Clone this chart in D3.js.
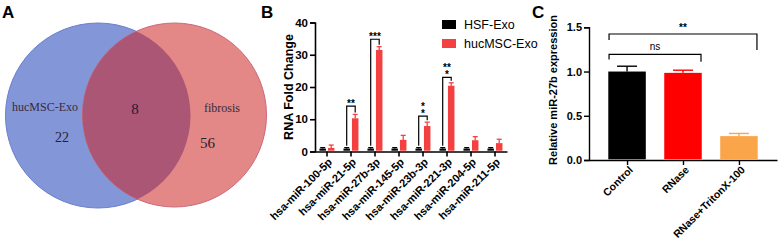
<!DOCTYPE html>
<html>
<head>
<meta charset="utf-8">
<script src="https://cdn.jsdelivr.net/npm/d3@7"></script>
<style>
body { margin: 0; background: #fff; }
svg { display: block; font-family: "Liberation Sans", Arial, sans-serif; }
</style>
</head>
<body>
<svg id="fig" width="778" height="248"></svg>
<script>
// panel A: venn counts
var vennSets = ['hucMSC-Exo', 'fibrosis'];
var vennCounts = [22, 8, 56];

// panel B: miRNA fold change
var mirs = ['hsa-miR-100-5p', 'hsa-miR-21-5p', 'hsa-miR-27b-3p', 'hsa-miR-145-5p',
            'hsa-miR-23b-3p', 'hsa-miR-221-3p', 'hsa-miR-204-5p', 'hsa-miR-211-5p'];
var hsfVals = [0.9, 0.9, 0.9, 0.9, 0.9, 0.9, 0.9, 0.9];
var hsfErr = [0.3, 0.3, 0.3, 0.3, 0.3, 0.3, 0.3, 0.3];
var mscVals = [1.1, 10.3, 31.5, 3.6, 7.9, 20.4, 3.5, 2.6];
var mscErr = [0.9, 1.2, 1.0, 1.4, 1.2, 0.9, 1.1, 1.2];
var sigIdx = [1, 2, 4, 5];
var sigTop = [14.1, 34.8, 11.0, 23.0];
var sigLabels = [['**'], ['***'], ['*', '*'], ['**', '*']];
var yTicksB = [0, 10, 20, 30, 40];

// panel C: relative miR-27b
var groupsC = ['Control', 'RNase', 'RNase+TritonX-100'];
var valsC = [1.0, 0.985, 0.27];
var errC = [0.06, 0.03, 0.03];
var colorsC = ['#000000', '#ff0000', '#fba54a'];
var yTicksC = [0, 0.5, 1.0, 1.5];

var svg = d3.select('#fig');

// ---------- A ----------
var gA = svg.append('g');
gA.append('text').attr('x', 2).attr('y', 18).attr('font-size', 17).attr('font-weight', 'bold').text('A');

var blue = {cx: 98, cy: 115.5, r: 92.5};
var red = {cx: 174.5, cy: 115, r: 92};
var defs = svg.append('defs');
defs.append('clipPath').attr('id', 'clipBlue').append('circle')
    .attr('cx', blue.cx).attr('cy', blue.cy).attr('r', blue.r);

gA.append('circle').attr('cx', blue.cx).attr('cy', blue.cy).attr('r', blue.r)
    .attr('fill', '#8296d8').attr('stroke', '#6a7fd0').attr('stroke-width', 1);
gA.append('circle').attr('cx', red.cx).attr('cy', red.cy).attr('r', red.r)
    .attr('fill', '#e38787').attr('stroke', '#c96a7a').attr('stroke-width', 1);
gA.append('circle').attr('cx', red.cx).attr('cy', red.cy).attr('r', red.r)
    .attr('clip-path', 'url(#clipBlue)').attr('fill', '#ab5675');

var serif = '"Liberation Serif", "DejaVu Serif", serif';
gA.append('text').attr('x', 12).attr('y', 111).attr('font-family', serif).attr('font-size', 12)
    .attr('fill', '#3a2a3a').text(vennSets[0]);
gA.append('text').attr('x', 204).attr('y', 112).attr('font-family', serif).attr('font-size', 12)
    .attr('fill', '#3a2a3a').text(vennSets[1]);
gA.append('text').attr('x', 55).attr('y', 142).attr('font-family', serif).attr('font-size', 14)
    .attr('fill', '#2a2030').text(vennCounts[0]);
gA.append('text').attr('x', 135).attr('y', 114).attr('font-family', serif).attr('font-size', 15)
    .attr('text-anchor', 'middle').attr('fill', '#2a1a2a').text(vennCounts[1]);
gA.append('text').attr('x', 200).attr('y', 148).attr('font-family', serif).attr('font-size', 15)
    .attr('fill', '#2a2030').text(vennCounts[2]);

// ---------- B ----------
var gB = svg.append('g');
gB.append('text').attr('x', 261).attr('y', 18).attr('font-size', 17).attr('font-weight', 'bold').text('B');

var xB = d3.scaleBand().domain(mirs).range([315, 507]);
var yB = d3.scaleLinear().domain([0, 40]).range([151.5, 22.5]);
var bw = 6.5;
var redB = '#f34141';

gB.append('g').attr('transform', 'translate(315,0)')
    .call(d3.axisLeft(yB).tickValues(yTicksB).tickSize(5).tickPadding(2))
    .call(function(g) {
        g.select('.domain').attr('stroke-width', 1.6);
        g.selectAll('.tick line').attr('stroke-width', 1.6);
        g.selectAll('text').attr('font-size', 11.5).attr('font-weight', 'bold').attr('font-family', null);
    });
gB.append('g').attr('transform', 'translate(0,151.5)')
    .call(d3.axisBottom(xB).tickSize(5).tickSizeOuter(0))
    .call(function(g) {
        g.select('.domain').attr('stroke-width', 1.6);
        g.selectAll('.tick line').attr('stroke-width', 1.6);
        g.selectAll('text').remove();
    });

gB.append('text')
    .attr('transform', 'translate(293,87) rotate(-90)')
    .attr('text-anchor', 'middle').attr('font-size', 12.5).attr('font-weight', 'bold')
    .text('RNA Fold Change');

mirs.forEach(function(m, i) {
    var c = xB(m) + xB.bandwidth() / 2;
    gB.append('text')
        .attr('transform', 'translate(' + (c + 3) + ',160) rotate(-45)')
        .attr('text-anchor', 'end').attr('dy', '0.35em')
        .attr('font-size', 11).attr('font-weight', 'bold').text(m);

    var series = [
        {x: c - 4.3, v: hsfVals[i], e: hsfErr[i], col: '#000'},
        {x: c + 4.2, v: mscVals[i], e: mscErr[i], col: redB}
    ];
    series.forEach(function(s) {
        gB.append('line').attr('x1', s.x).attr('x2', s.x)
            .attr('y1', yB(s.v)).attr('y2', yB(s.v + s.e))
            .attr('stroke', s.col).attr('stroke-width', 1.3);
        gB.append('line').attr('x1', s.x - 2.5).attr('x2', s.x + 2.5)
            .attr('y1', yB(s.v + s.e)).attr('y2', yB(s.v + s.e))
            .attr('stroke', s.col).attr('stroke-width', 1.3);
        gB.append('rect').attr('x', s.x - bw / 2).attr('width', bw)
            .attr('y', yB(s.v)).attr('height', yB(0) - yB(s.v) - 0.8)
            .attr('fill', s.col);
    });
});

// significance brackets
sigIdx.forEach(function(idx, k) {
    var c = xB(mirs[idx]) + xB.bandwidth() / 2;
    var xl = c - 4.3, xr = c + 4.2;
    var top = yB(sigTop[k]);
    var bl = yB(hsfVals[idx] + hsfErr[idx]) - 2;
    var br = yB(mscVals[idx] + mscErr[idx]) - 2;
    gB.append('path')
        .attr('d', 'M' + xl + ',' + bl + 'V' + top + 'H' + xr + 'V' + br)
        .attr('fill', 'none').attr('stroke', '#000').attr('stroke-width', 1.2);
    var lab = sigLabels[k];
    var txt = gB.append('text').attr('text-anchor', 'middle')
        .attr('font-size', 10).attr('font-weight', 'bold');
    lab.forEach(function(t, j) {
        var n = lab.length - 1 - j;
        txt.append('tspan').attr('x', (xl + xr) / 2).attr('y', top + 0.5 - n * 7).text(t);
    });
});

// legend
var legB = gB.append('g');
var legItems = [{t: 'HSF-Exo', c: '#000'}, {t: 'hucMSC-Exo', c: redB}];
legItems.forEach(function(d, i) {
    legB.append('rect').attr('x', 442).attr('y', 20 + i * 19).attr('width', 14).attr('height', 9).attr('fill', d.c);
    legB.append('text').attr('x', 464).attr('y', 24.5 + i * 19).attr('dy', '0.35em')
        .attr('font-size', 12.5).text(d.t);
});

// ---------- C ----------
var gC = svg.append('g');
gC.append('text').attr('x', 532).attr('y', 18).attr('font-size', 17).attr('font-weight', 'bold').text('C');

var xC = d3.scalePoint().domain(groupsC).range([589, 777]).padding(0.68);
var yC = d3.scaleLinear().domain([0, 1.5]).range([160, 27.3]);
var bwC = 37.5;

gC.append('g').attr('transform', 'translate(589,0)')
    .call(d3.axisLeft(yC).tickValues(yTicksC).tickFormat(d3.format('.1f')).tickSize(5).tickPadding(2))
    .call(function(g) {
        g.select('.domain').attr('stroke-width', 1.4);
        g.selectAll('.tick line').attr('stroke-width', 1.4);
        g.selectAll('text').attr('font-size', 11).attr('font-weight', 'bold').attr('font-family', null);
    });
gC.append('g').attr('transform', 'translate(0,160)')
    .call(d3.axisBottom(xC).tickSize(5).tickSizeOuter(0))
    .call(function(g) {
        g.select('.domain').attr('stroke-width', 1.4);
        g.selectAll('.tick line').attr('stroke-width', 1.4);
        g.selectAll('text').remove();
    });

gC.append('text')
    .attr('transform', 'translate(557,90) rotate(-90)')
    .attr('text-anchor', 'middle').attr('font-size', 11).attr('font-weight', 'bold')
    .text('Relative miR-27b expression');

groupsC.forEach(function(g, i) {
    var c = xC(g);
    gC.append('line').attr('x1', c).attr('x2', c)
        .attr('y1', yC(valsC[i])).attr('y2', yC(valsC[i] + errC[i]))
        .attr('stroke', colorsC[i]).attr('stroke-width', 1.4);
    gC.append('line').attr('x1', c - 10).attr('x2', c + 10)
        .attr('y1', yC(valsC[i] + errC[i])).attr('y2', yC(valsC[i] + errC[i]))
        .attr('stroke', colorsC[i]).attr('stroke-width', 1.4);
    gC.append('rect').attr('x', c - bwC / 2).attr('width', bwC)
        .attr('y', yC(valsC[i])).attr('height', yC(0) - yC(valsC[i]) - 0.7)
        .attr('fill', colorsC[i]);
    gC.append('text')
        .attr('transform', 'translate(' + (c + 4) + ',168) rotate(-45)')
        .attr('text-anchor', 'end').attr('dy', '0.35em')
        .attr('font-size', 10.5).attr('font-weight', 'bold').text(g);
});

// brackets C
var xc0 = xC(groupsC[0]) - 18;
gC.append('path').attr('d', 'M' + xc0 + ',59.5V54.3H' + (xC(groupsC[1]) + 18) + 'V61.7')
    .attr('fill', 'none').attr('stroke', '#000').attr('stroke-width', 1.2);
gC.append('text').attr('x', 655).attr('y', 50).attr('text-anchor', 'middle')
    .attr('font-size', 10).text('ns');
gC.append('path').attr('d', 'M' + xc0 + ',40V34H' + (xC(groupsC[2]) + 18) + 'V50')
    .attr('fill', 'none').attr('stroke', '#000').attr('stroke-width', 1.2);
gC.append('text').attr('x', 683).attr('y', 31).attr('text-anchor', 'middle')
    .attr('font-size', 10).attr('font-weight', 'bold').text('**');
</script>
</body>
</html>
